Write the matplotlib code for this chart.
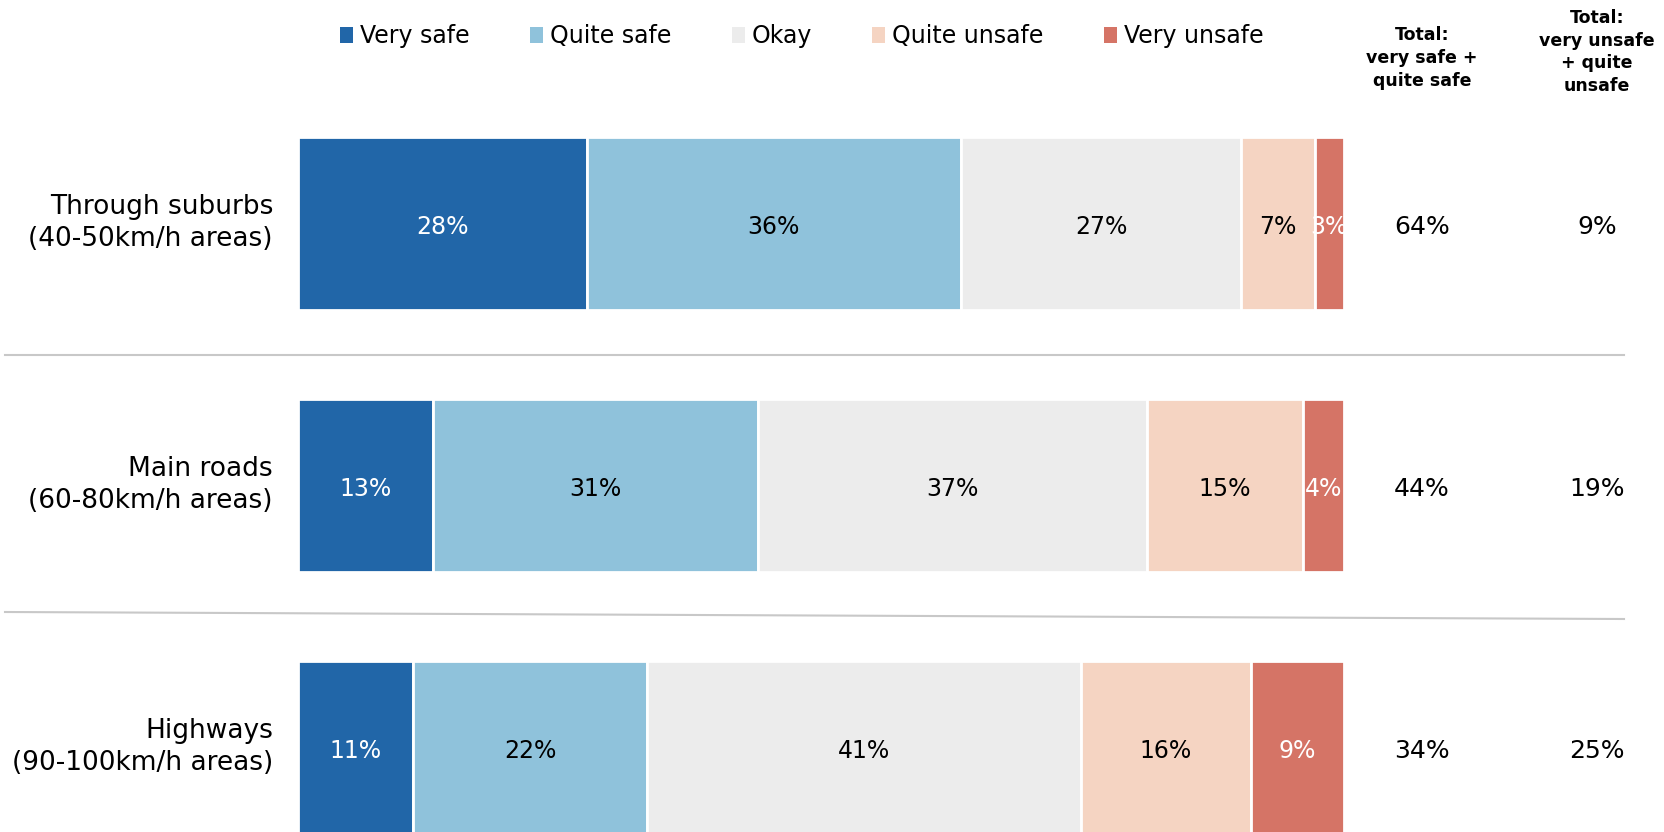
import matplotlib
matplotlib.use("Agg")
import matplotlib.pyplot as plt
from matplotlib.patches import Patch
from matplotlib.lines import Line2D
import numpy as np

# data
rows = ["Through suburbs\n(40-50km/h areas)",
        "Main roads\n(60-80km/h areas)",
        "Highways\n(90-100km/h areas)"]
categories = ["Very safe", "Quite safe", "Okay", "Quite unsafe", "Very unsafe"]
very_safe = [27.6, 12.9, 11.0]
quite_safe = [35.7, 31.1, 22.3]
okay = [26.8, 37.2, 41.4]
quite_unsafe = [7.0, 15.0, 16.2]
very_unsafe = [2.8, 3.9, 8.9]
total_safe = [64, 44, 34]
total_unsafe = [9, 19, 25]

colors = ["#2166a8", "#8fc2db", "#ececec", "#f5d4c2", "#d57466"]
text_colors = ["white", "black", "black", "black", "white"]

W, H = 1664, 832
fig = plt.figure(figsize=(W / 100, H / 100), dpi=100)
plt.rcParams['font.family'] = ['DejaVu Sans']

# bar axes spans x 298..1344 px, full height
x0, x1 = 298, 1344
ax = fig.add_axes([x0 / W, 0, (x1 - x0) / W, 1])
row_c, row_gap = 223.5, 262.0
ax.set_ylim((H - row_c) / row_gap, -row_c / row_gap)
ax.axis("off")

series = [very_safe, quite_safe, okay, quite_unsafe, very_unsafe]
y = np.arange(len(rows))
totals = np.sum(series, axis=0)
ax.set_xlim(0, 1)
dy = 0.015  # numbers sit a touch below bar centre
left = np.zeros(len(rows))
for vals, col, tc in zip(series, colors, text_colors):
    w = np.array(vals) / totals
    ax.barh(y, w, left=left, height=173 / row_gap, color=col,
            edgecolor="white", linewidth=2)
    for yi, li, wi, v in zip(y, left, w, vals):
        ax.text(li + wi / 2, yi + dy, f"{round(v)}%", ha="center",
                va="center", fontsize=17, color=tc, clip_on=True)
    left += w

# row labels and totals
tr = ax.get_yaxis_transform()
for yi, lab, ts, tu in zip(y, rows, total_safe, total_unsafe):
    ax.text((273 - x0) / (x1 - x0), yi, lab, transform=tr, ha="right",
            va="center", fontsize=19, linespacing=1.3, clip_on=False)
    ax.text((1422 - x0) / (x1 - x0), yi + dy, f"{ts}%", transform=tr,
            ha="center", va="center", fontsize=18, clip_on=False)
    ax.text((1597 - x0) / (x1 - x0), yi + dy, f"{tu}%", transform=tr,
            ha="center", va="center", fontsize=18, clip_on=False)

# column headers
fig.text(1422 / W, 1 - 58 / H, "Total:\nvery safe +\nquite safe",
         ha="center", va="center", fontsize=12.5, fontweight="bold",
         linespacing=1.35)
fig.text(1597 / W, 1 - 52 / H, "Total:\nvery unsafe\n+ quite\nunsafe",
         ha="center", va="center", fontsize=12.5, fontweight="bold",
         linespacing=1.35)

# separators
fig.add_artist(Line2D([5 / W, 1624 / W], [1 - 355 / H, 1 - 355 / H],
                      color="#c8c8c8", linewidth=1.5))
fig.add_artist(Line2D([5 / W, 1624 / W], [1 - 612 / H, 1 - 619 / H],
                      color="#c8c8c8", linewidth=1.5))

# legend
handles = [Patch(facecolor=c, edgecolor="none") for c in colors]
fig.legend(handles, categories, loc="center left",
           bbox_to_anchor=(340 / W, 1 - 36 / H), ncol=5, frameon=False,
           fontsize=17, handlelength=0.55, handleheight=0.65,
           handletextpad=0.3, columnspacing=2.55, borderaxespad=0,
           borderpad=0)

fig.savefig("out.png", dpi=100)
